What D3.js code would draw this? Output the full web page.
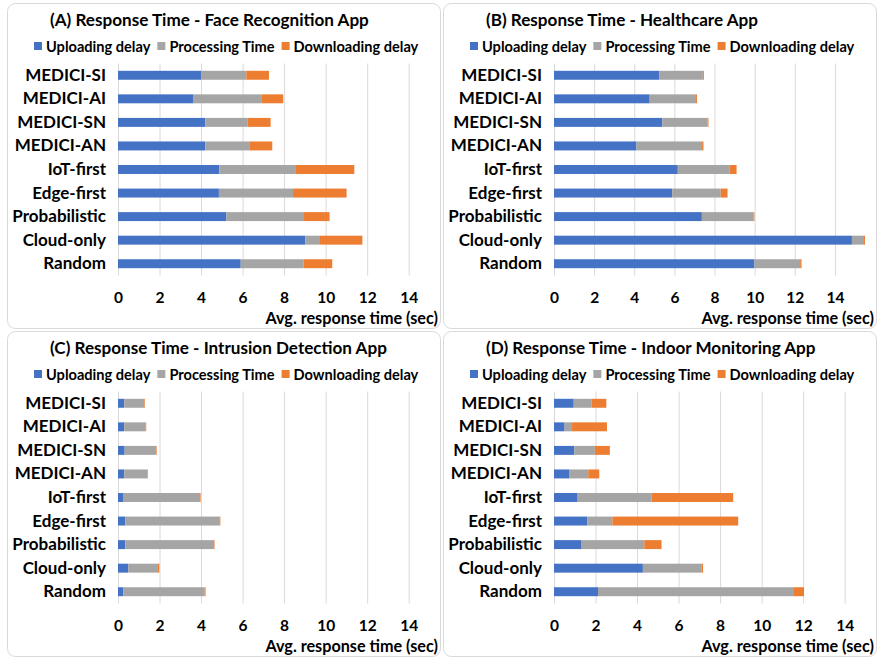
<!DOCTYPE html>
<html>
<head>
<meta charset="utf-8">
<script src="https://cdn.jsdelivr.net/npm/d3@7"></script>
<style>
  body { margin: 0; background: #fff; }
  text { font-family: Lato, "Open Sans", sans-serif; font-weight: bold; fill: #000; }
</style>
</head>
<body>
<svg width="878" height="658"></svg>
<script>
const categories = ['MEDICI-SI', 'MEDICI-AI', 'MEDICI-SN', 'MEDICI-AN', 'IoT-first',
  'Edge-first', 'Probabilistic', 'Cloud-only', 'Random'];
const seriesNames = ['Uploading delay', 'Processing Time', 'Downloading delay'];
const ticks = [0, 2, 4, 6, 8, 10, 12, 14];

// (A) face recognition
const faceUpload     = [4.01, 3.64, 4.20, 4.20, 4.88, 4.86, 5.22, 9.02, 5.91];
const faceProcessing = [2.17, 3.29, 2.03, 2.12, 3.69, 3.57, 3.74, 0.67, 3.03];
const faceDownload   = [1.09, 1.03, 1.12, 1.11, 2.81, 2.58, 1.23, 2.08, 1.38];
// (B) healthcare
const healthUpload     = [5.24, 4.77, 5.40, 4.11, 6.17, 5.89, 7.37, 14.85, 9.99];
const healthProcessing = [2.18, 2.31, 2.25, 3.27, 2.59, 2.42, 2.57, 0.56, 2.28];
const healthDownload   = [0.05, 0.05, 0.05, 0.07, 0.34, 0.34, 0.05, 0.09, 0.07];
// (C) intrusion detection
const intrusionUpload     = [0.30, 0.30, 0.32, 0.30, 0.24, 0.35, 0.35, 0.50, 0.26];
const intrusionProcessing = [0.97, 1.03, 1.51, 1.11, 3.71, 4.53, 4.27, 1.39, 3.91];
const intrusionDownload   = [0.03, 0.03, 0.03, 0.03, 0.03, 0.05, 0.03, 0.10, 0.05];
// (D) indoor monitoring
const indoorUpload     = [0.95, 0.51, 0.98, 0.75, 1.14, 1.60, 1.30, 4.28, 2.12];
const indoorProcessing = [0.86, 0.36, 0.99, 0.90, 3.56, 1.21, 3.05, 2.82, 9.44];
const indoorDownload   = [0.71, 1.68, 0.72, 0.53, 3.93, 6.06, 0.83, 0.08, 0.48];

const panels = [
  { title: '(A) Response Time - Face Recognition App', x: 7, y: 3, xMax: 15.46,
    up: faceUpload, proc: faceProcessing, down: faceDownload },
  { title: '(B) Response Time - Healthcare App', x: 443, y: 3, xMax: 16,
    up: healthUpload, proc: healthProcessing, down: healthDownload },
  { title: '(C) Response Time - Intrusion Detection App', x: 7, y: 331, xMax: 15.46,
    up: intrusionUpload, proc: intrusionProcessing, down: intrusionDownload },
  { title: '(D) Response Time - Indoor Monitoring App', x: 443, y: 331, xMax: 15.46,
    up: indoorUpload, proc: indoorProcessing, down: indoorDownload }
];

const colors = ['#4472C4', '#A5A5A5', '#ED7D31'];
const keys = ['up', 'proc', 'down'];

const svg = d3.select('svg');
const pw = 433, ph = 325;
const plotLeft = 111, plotW = 321, plotTop = 60.5, plotBottom = 272.5;

panels.forEach(p => {
  const g = svg.append('g').attr('transform', `translate(${p.x},${p.y})`);

  g.append('rect')
    .attr('x', 0.5).attr('y', 0.5)
    .attr('width', pw).attr('height', ph)
    .attr('rx', 8)
    .attr('fill', '#fff')
    .attr('stroke', '#d9d9d9');

  g.append('text')
    .attr('x', 43).attr('y', 23)
    .style('font-size', '17.1px')
    .text(p.title);

  // legend
  let lx = 27;
  seriesNames.forEach((name, i) => {
    g.append('rect')
      .attr('x', lx).attr('y', 39)
      .attr('width', 8).attr('height', 8)
      .attr('fill', colors[i]);
    const t = g.append('text')
      .attr('x', lx + 12).attr('y', 49)
      .style('font-size', '14.6px')
      .text(name);
    lx += 12 + t.node().getComputedTextLength() + 7;
  });

  const x = d3.scaleLinear().domain([0, p.xMax]).range([plotLeft, plotLeft + plotW]);
  const y = d3.scaleBand().domain(categories).range([plotTop, plotBottom])
    .paddingInner(0.62).paddingOuter(0.31);

  // grid + tick labels
  const xAxis = g.append('g')
    .attr('transform', `translate(0,${plotBottom})`)
    .call(d3.axisBottom(x).tickValues(ticks).tickSize(-(plotBottom - plotTop)).tickPadding(16));
  xAxis.select('.domain').remove();
  xAxis.selectAll('.tick line').attr('stroke', '#d9d9d9');
  xAxis.selectAll('.tick text')
    .style('font-family', 'Lato, sans-serif')
    .style('font-weight', 'bold')
    .style('font-size', '15.5px')
    .attr('fill', '#000');

  const rows = categories.map((c, i) => ({ cat: c, up: p.up[i], proc: p.proc[i], down: p.down[i] }));
  const stacked = d3.stack().keys(keys)(rows);

  g.append('g').selectAll('g')
    .data(stacked)
    .join('g')
      .attr('fill', (d, i) => colors[i])
    .selectAll('rect')
    .data(d => d)
    .join('rect')
      .attr('x', d => x(d[0]))
      .attr('y', d => y(d.data.cat))
      .attr('width', d => x(d[1]) - x(d[0]))
      .attr('height', y.bandwidth());

  const yAxis = g.append('g')
    .attr('transform', `translate(${plotLeft},0)`)
    .call(d3.axisLeft(y).tickSize(0).tickPadding(12));
  yAxis.select('.domain').remove();
  yAxis.selectAll('.tick text')
    .style('font-family', 'Lato, sans-serif')
    .style('font-weight', 'bold')
    .style('font-size', '17px')
    .attr('fill', '#000');

  g.append('text')
    .attr('x', 431).attr('y', 321)
    .attr('text-anchor', 'end')
    .style('font-size', '16.2px')
    .text('Avg. response time (sec)');
});
</script>
</body>
</html>
